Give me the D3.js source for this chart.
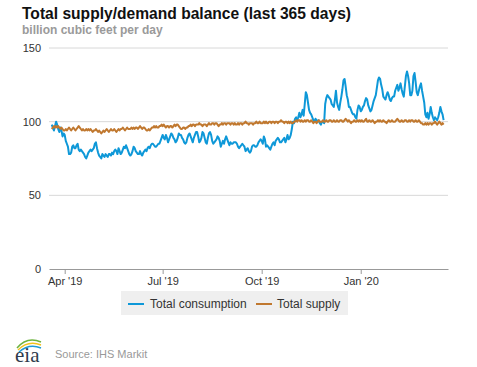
<!DOCTYPE html>
<html>
<head>
<meta charset="utf-8">
<script src="https://cdn.jsdelivr.net/npm/d3@7/dist/d3.min.js"></script>
<style>
  html, body { margin: 0; padding: 0; background: #fff; }
  svg { display: block; font-family: "Liberation Sans", Arial, sans-serif; }
</style>
</head>
<body>
<svg id="chart" width="477" height="367"></svg>
<script>
// ---- data ----
const startDate = "2019-03-20";
const consumption = [
  98,96,94,97,100,98,95,93,96,94,
  90,92,91,87,85,83,78,78,79,83,
  84,82,82,84,85,81,80,81,80,79,
  78,76,75,77,79,80,81,80,81,82,
  85,86,82,79,77,76,75,78,77,76,
  78,77,76,78,78,77,79,78,80,81,
  80,78,82,80,78,79,81,83,82,84,
  82,80,78,77,78,80,83,82,80,79,
  78,78,80,78,77,79,80,81,80,82,
  83,82,84,85,85,84,83,83,84,85,
  85,87,89,91,89,88,91,89,86,88,
  90,92,91,89,88,86,87,89,92,91,
  91,89,88,86,85,86,89,91,92,90,
  88,86,89,91,93,93,90,86,87,89,
  93,92,89,86,85,89,92,93,91,87,
  85,86,87,88,90,89,87,83,85,87,
  85,88,90,88,86,84,86,85,85,86,
  86,86,85,83,82,83,84,85,84,83,
  80,81,82,80,79,80,83,84,84,83,
  83,84,86,87,88,87,85,90,88,83,
  84,83,82,81,83,85,86,84,87,88,
  89,88,86,86,87,88,89,86,88,91,
  88,89,91,95,100,99,102,103,101,103,
  106,103,105,108,104,112,120,118,113,108,
  106,105,103,101,100,102,101,100,101,99,
  98,100,100,99,112,116,118,117,116,115,
  112,111,110,115,121,113,110,108,113,117,
  122,128,129,124,118,115,110,110,108,106,
  105,105,103,102,108,111,110,107,108,110,
  111,114,116,115,111,109,107,108,111,114,
  116,118,123,128,130,129,125,122,117,116,
  115,118,120,118,115,114,116,117,117,121,
  123,125,121,123,126,122,119,117,124,131,
  134,131,126,118,118,121,131,133,127,120,
  118,121,124,126,121,117,113,105,103,106,
  102,105,110,106,103,101,103,102,101,103,
  106,110,107,105,101
];
const supply = [
  95,96,97,96,97,96,97,96,95,96,95,
  94,94,95,94,95,96,95,94,95,96,95,94,95,96,97,96,95,94,95,94,94,95,94,95,94,95,94,93,94,94,95,
  94,93,94,93,92,93,94,93,94,95,94,93,94,95,94,94,95,94,93,94,95,94,95,95,96,95,94,95,96,95,95,
  95,96,95,96,95,96,96,95,96,97,96,95,96,96,95,94,94,95,94,95,96,96,97,96,97,96,96,97,97,98,
  97,98,97,96,97,97,96,97,97,96,97,98,97,98,98,97,96,95,95,96,96,95,96,96,97,97,98,97,98,98,97,
  98,98,98,99,98,98,97,98,98,98,97,98,99,98,98,99,99,98,99,99,98,97,98,98,99,98,99,99,98,99,99,
  99,98,99,99,98,99,98,98,99,98,99,99,98,99,99,100,99,99,98,99,99,99,98,99,99,100,99,99,100,99,
  99,99,100,99,100,99,99,100,100,99,100,100,99,100,100,99,100,100,101,100,100,99,100,100,99,100,99,100,99,99,100,
  100,101,100,101,101,100,101,100,100,101,100,101,101,100,100,101,100,99,100,100,99,100,101,100,100,100,101,100,100,101,100,
  100,101,101,100,100,101,100,100,101,100,100,101,101,100,100,101,102,101,100,101,100,99,100,100,101,100,100,101,100,101,100,
  101,100,100,101,102,100,100,101,100,100,101,100,99,100,100,101,100,101,100,100,101,100,100,99,100,101,100,100,101,100,100,
  100,101,102,101,100,100,101,100,100,101,101,100,100,101,100,101,101,100,100,101,100,100,101,100,99,99,98,98,99,98,99,
  98,99,99,98,99,99,100,99,98,99,100,99,98,99,98
];
const seriesNames = ["Total consumption", "Total supply"];
const seriesColors = ["#0e98d8", "#c0782f"];
const yTicks = [0, 50, 100, 150];
const xTickDates = ["2019-04-01", "2019-07-01", "2019-10-01", "2020-01-01"];
const xTickLabels = ["Apr '19", "Jul '19", "Oct '19", "Jan '20"];
const titleText = "Total supply/demand balance (last 365 days)";
const subtitleText = "billion cubic feet per day";
const sourceText = "Source: IHS Markit";

// ---- layout ----
const svg = d3.select("#chart");
const plot = { left: 49, right: 448, top: 48, bottom: 269 };

const parse = d3.utcParse("%Y-%m-%d");
const t0 = parse(startDate);
const dayMs = 86400000;

const x = d3.scaleUtc()
  .domain([new Date(Date.UTC(2019, 2, 17, 10)), new Date(Date.UTC(2020, 2, 22, 2))])
  .range([plot.left, plot.right]);
const y = d3.scaleLinear().domain([0, 150]).range([plot.bottom, plot.top]);

// title
svg.append("text").attr("x", 22).attr("y", 19)
  .attr("font-size", 15.6).attr("font-weight", "bold").attr("fill", "#111")
  .text(titleText);
svg.append("text").attr("x", 22).attr("y", 34)
  .attr("font-size", 12).attr("font-weight", "bold").attr("fill", "#9a9a9a")
  .text(subtitleText);

// grid lines
svg.append("g").selectAll("line").data(yTicks.filter(d => d > 0)).join("line")
  .attr("x1", plot.left).attr("x2", plot.right)
  .attr("y1", d => y(d)).attr("y2", d => y(d))
  .attr("stroke", "#d8d8d8").attr("stroke-width", 1);

// y axis labels
svg.append("g").selectAll("text").data(yTicks).join("text")
  .attr("x", 41).attr("y", d => y(d) + 4)
  .attr("text-anchor", "end").attr("font-size", 11).attr("fill", "#333")
  .text(d => d);

// x axis
const xAxis = d3.axisBottom(x)
  .tickValues(xTickDates.map(parse))
  .tickFormat((d, i) => xTickLabels[i])
  .tickSizeInner(5).tickSizeOuter(0).tickPadding(3);
const gx = svg.append("g").attr("transform", `translate(0,${plot.bottom})`).call(xAxis);
gx.select(".domain").attr("stroke", "#999").attr("stroke-width", 1);
gx.selectAll(".tick line").attr("stroke", "#999");
gx.selectAll(".tick text").attr("font-size", 11).attr("fill", "#333")
  .attr("font-family", "Liberation Sans, Arial, sans-serif");

// lines
const line = d3.line()
  .x((d, i) => x(new Date(t0.getTime() + i * dayMs)))
  .y(d => y(d));
[consumption, supply].forEach((s, k) => {
  svg.append("path").datum(s)
    .attr("fill", "none").attr("stroke", seriesColors[k])
    .attr("stroke-width", 2).attr("stroke-linejoin", "round")
    .attr("d", line);
});

// legend
const lg = svg.append("g");
lg.append("rect").attr("x", 121).attr("y", 291).attr("width", 227).attr("height", 24)
  .attr("fill", "#efefef");
const legendItems = [{ lx: 128, tx: 150 }, { lx: 256, tx: 277 }];
legendItems.forEach((it, k) => {
  lg.append("line").attr("x1", it.lx).attr("x2", it.lx + 16)
    .attr("y1", 304).attr("y2", 304)
    .attr("stroke", seriesColors[k]).attr("stroke-width", 2);
  lg.append("text").attr("x", it.tx).attr("y", 308)
    .attr("font-size", 12).attr("fill", "#333").text(seriesNames[k]);
});

// source + logo
svg.append("text").attr("x", 55).attr("y", 358)
  .attr("font-size", 11).attr("fill", "#999").text(sourceText);
const logo = svg.append("g");
logo.append("path").attr("d", "M17,348 Q27,336 41,342").attr("fill", "none")
  .attr("stroke", "#6db33f").attr("stroke-width", 1.5);
logo.append("path").attr("d", "M18,350 Q28,340 41,345").attr("fill", "none")
  .attr("stroke", "#f2c21b").attr("stroke-width", 1.5);
logo.append("path").attr("d", "M19,352 Q29,343 41,348").attr("fill", "none")
  .attr("stroke", "#1e9ad6").attr("stroke-width", 1.5);
logo.append("text").attr("x", 15).attr("y", 362)
  .attr("font-family", "Liberation Serif, serif").attr("font-size", 21)
  .attr("fill", "#2f3b4c").text("eia");
</script>
</body>
</html>
